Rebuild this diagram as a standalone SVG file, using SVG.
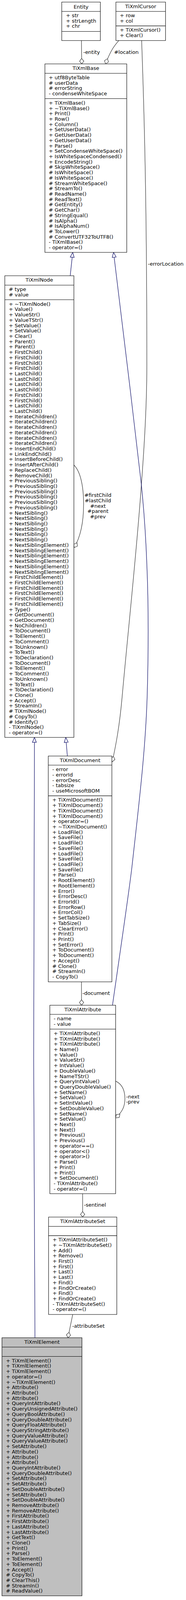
<svg xmlns="http://www.w3.org/2000/svg" width="475" height="4376" viewBox="0 0 475 4376">
<style>
.box{fill:#ffffff;stroke:#000000;stroke-width:1.1}
.root{fill:#bfbfbf;stroke:#000000;stroke-width:1.1}
.div{stroke:#000000;stroke-width:1.1}
text{font-family:'DejaVu Sans','Liberation Sans',sans-serif;font-size:13px;fill:#000000}
.t{text-anchor:middle}
.use{fill:none;stroke:#404040;stroke-width:1.3}
.inh{fill:none;stroke:#191970;stroke-width:1.3}
.lbl{text-anchor:start}
.lc{text-anchor:middle}
</style>
<defs>
<marker id="tri" markerUnits="userSpaceOnUse" markerWidth="16" markerHeight="12" refX="13.5" refY="0" orient="auto" overflow="visible">
<path d="M0,-5 L13.5,0 L0,5 Z" fill="#ffffff" stroke="#191970" stroke-width="1.3"/>
</marker>
<marker id="dia" markerUnits="userSpaceOnUse" markerWidth="16" markerHeight="12" refX="15" refY="0" orient="auto" overflow="visible">
<path d="M0,0 L7.5,-5.4 L15,0 L7.5,5.4 Z" fill="#ffffff" stroke="#404040" stroke-width="1.3"/>
</marker>
</defs>
<rect x="0" y="0" width="475" height="4376" fill="#ffffff"/>
<g id="diagram" transform="scale(1,0.935)">
<g id="edges">
<path class="use" d="M208,111 L208.7,175" marker-end="url(#dia)"/>
<text class="lbl" x="212.7" y="147.5">-entity</text>
<path class="use" d="M303.3,111 C296,120 290,128 284,140 C279,150 274,162 269.5,175" marker-end="url(#dia)"/>
<text class="lbl" x="291.5" y="147.5">#location</text>
<path class="use" d="M361.7,111 C368,300 375,550 375,1000 C375,1100 368,1230 361,1327 C350,1500 325,1750 311.7,1910 C305,1990 296,2040 286.7,2085.7" marker-end="url(#dia)"/>
<text class="lbl" x="377.7" y="727.4">-errorLocation</text>
<path class="inh" d="M179.3,755 L185.7,691" marker-end="url(#tri)"/>
<path class="inh" d="M287.3,2752.3 C300,2655 330,2440 337.3,2370 C355,2200 372,2050 376,1900 C380,1750 378,1620 375,1545 C372,1460 368,1400 361,1327 C340,1130 305,820 290,691" marker-end="url(#tri)"/>
<path class="use" d="M188.7,1273.3 C205,1290 213.5,1330 213.5,1380 C213.5,1440 203,1475 189.3,1499.3" marker-end="url(#dia)"/>
<text class="lc" x="250" y="1360.8"><tspan x="250">#firstChild</tspan><tspan x="250" dy="14.67">#lastChild</tspan><tspan x="250" dy="14.67">#next</tspan><tspan x="250" dy="14.67">#parent</tspan><tspan x="250" dy="14.67">#prev</tspan></text>
<path class="inh" d="M172,2070 L168,2019" marker-end="url(#tri)"/>
<path class="inh" d="M89.3,3662.7 C87,3500 86,3300 86,2900 C86,2400 86,2150 88,2019" marker-end="url(#tri)"/>
<path class="use" d="M208,2688.3 L208.3,2752.3" marker-end="url(#dia)"/>
<text class="lbl" x="210.4" y="2724.1">-document</text>
<path class="use" d="M295.3,2960 C311,2968 319,2985 319,3008 C319,3030 312,3045 295.3,3060.7" marker-end="url(#dia)"/>
<text class="lc" x="339" y="3007.5"><tspan x="339">-next</tspan><tspan x="339" dy="14.3">-prev</tspan></text>
<path class="use" d="M211,3268.3 L211,3332.3" marker-end="url(#dia)"/>
<text class="lbl" x="214.4" y="3304.1">-sentinel</text>
<path class="use" d="M185.7,3599 L173.5,3662.7" marker-end="url(#dia)"/>
<text class="lbl" x="184.4" y="3635.1">-attributeSet</text>
</g>

<g id="Entity">
<rect class="box" x="157.7" y="5.7" width="98.6" height="105.3"/>
<line class="div" x1="157.7" y1="31.3" x2="256.3" y2="31.3"/>
<line class="div" x1="157.7" y1="86" x2="256.3" y2="86"/>
<text class="t" x="207" y="23.1">Entity</text>
<text x="168.6" y="47.1"><tspan x="168.6">+ str</tspan><tspan x="168.6" dy="14.67">+ strLength</tspan><tspan x="168.6" dy="14.67">+ chr</tspan></text>
</g>

<g id="TiXmlCursor">
<rect class="box" x="296" y="5.7" width="126.7" height="105.3"/>
<line class="div" x1="296" y1="31.3" x2="422.7" y2="31.3"/>
<line class="div" x1="296" y1="71" x2="422.7" y2="71"/>
<text class="t" x="359.3" y="22.8">TiXmlCursor</text>
<text x="305.9" y="47.1"><tspan x="305.9">+ row</tspan><tspan x="305.9" dy="14.67">+ col</tspan></text>
<text x="305.9" y="86.8"><tspan x="305.9">+ TiXmlCursor()</tspan><tspan x="305.9" dy="14.67">+ Clear()</tspan></text>
</g>

<g id="TiXmlBase">
<rect class="box" x="114.7" y="175" width="209" height="516"/>
<line class="div" x1="114.7" y1="200.7" x2="323.7" y2="200.7"/>
<line class="div" x1="114.7" y1="270" x2="323.7" y2="270"/>
<text class="t" x="219.2" y="191.5">TiXmlBase</text>
<text x="124.6" y="217.1"><tspan x="124.6">+ utf8ByteTable</tspan><tspan x="124.6" dy="14.67"># userData</tspan><tspan x="124.6" dy="14.67"># errorString</tspan><tspan x="124.6" dy="14.67">- condenseWhiteSpace</tspan></text>
<text x="124.6" y="286.5"><tspan x="124.6">+ TiXmlBase()</tspan><tspan x="124.6" dy="14.67">+ ~TiXmlBase()</tspan><tspan x="124.6" dy="14.67">+ Print()</tspan><tspan x="124.6" dy="14.67">+ Row()</tspan><tspan x="124.6" dy="14.67">+ Column()</tspan><tspan x="124.6" dy="14.67">+ SetUserData()</tspan><tspan x="124.6" dy="14.67">+ GetUserData()</tspan><tspan x="124.6" dy="14.67">+ GetUserData()</tspan><tspan x="124.6" dy="14.67">+ Parse()</tspan><tspan x="124.6" dy="14.67">+ SetCondenseWhiteSpace()</tspan><tspan x="124.6" dy="14.67">+ IsWhiteSpaceCondensed()</tspan><tspan x="124.6" dy="14.67">+ EncodeString()</tspan><tspan x="124.6" dy="14.67"># SkipWhiteSpace()</tspan><tspan x="124.6" dy="14.67"># IsWhiteSpace()</tspan><tspan x="124.6" dy="14.67"># IsWhiteSpace()</tspan><tspan x="124.6" dy="14.67"># StreamWhiteSpace()</tspan><tspan x="124.6" dy="14.67"># StreamTo()</tspan><tspan x="124.6" dy="14.67"># ReadName()</tspan><tspan x="124.6" dy="14.67"># ReadText()</tspan><tspan x="124.6" dy="14.67"># GetEntity()</tspan><tspan x="124.6" dy="14.67"># GetChar()</tspan><tspan x="124.6" dy="14.67"># StringEqual()</tspan><tspan x="124.6" dy="14.67"># IsAlpha()</tspan><tspan x="124.6" dy="14.67"># IsAlphaNum()</tspan><tspan x="124.6" dy="14.67"># ToLower()</tspan><tspan x="124.6" dy="14.67"># ConvertUTF32ToUTF8()</tspan><tspan x="124.6" dy="14.67">- TiXmlBase()</tspan><tspan x="124.6" dy="14.67">- operator=()</tspan></text>
</g>

<g id="TiXmlNode">
<rect class="box" x="12.3" y="755" width="176.4" height="1264"/>
<line class="div" x1="12.3" y1="780.7" x2="188.7" y2="780.7"/>
<line class="div" x1="12.3" y1="820.7" x2="188.7" y2="820.7"/>
<text class="t" x="100.5" y="771.5">TiXmlNode</text>
<text x="22.6" y="797.3"><tspan x="22.6"># type</tspan><tspan x="22.6" dy="14.67"># value</tspan></text>
<text x="22.6" y="837.1"><tspan x="22.6">+ ~TiXmlNode()</tspan><tspan x="22.6" dy="14.67">+ Value()</tspan><tspan x="22.6" dy="14.67">+ ValueStr()</tspan><tspan x="22.6" dy="14.67">+ ValueTStr()</tspan><tspan x="22.6" dy="14.67">+ SetValue()</tspan><tspan x="22.6" dy="14.67">+ SetValue()</tspan><tspan x="22.6" dy="14.67">+ Clear()</tspan><tspan x="22.6" dy="14.67">+ Parent()</tspan><tspan x="22.6" dy="14.67">+ Parent()</tspan><tspan x="22.6" dy="14.67">+ FirstChild()</tspan><tspan x="22.6" dy="14.67">+ FirstChild()</tspan><tspan x="22.6" dy="14.67">+ FirstChild()</tspan><tspan x="22.6" dy="14.67">+ FirstChild()</tspan><tspan x="22.6" dy="14.67">+ LastChild()</tspan><tspan x="22.6" dy="14.67">+ LastChild()</tspan><tspan x="22.6" dy="14.67">+ LastChild()</tspan><tspan x="22.6" dy="14.67">+ LastChild()</tspan><tspan x="22.6" dy="14.67">+ FirstChild()</tspan><tspan x="22.6" dy="14.67">+ FirstChild()</tspan><tspan x="22.6" dy="14.67">+ LastChild()</tspan><tspan x="22.6" dy="14.67">+ LastChild()</tspan><tspan x="22.6" dy="14.67">+ IterateChildren()</tspan><tspan x="22.6" dy="14.67">+ IterateChildren()</tspan><tspan x="22.6" dy="14.67">+ IterateChildren()</tspan><tspan x="22.6" dy="14.67">+ IterateChildren()</tspan><tspan x="22.6" dy="14.67">+ IterateChildren()</tspan><tspan x="22.6" dy="14.67">+ IterateChildren()</tspan><tspan x="22.6" dy="14.67">+ InsertEndChild()</tspan><tspan x="22.6" dy="14.67">+ LinkEndChild()</tspan><tspan x="22.6" dy="14.67">+ InsertBeforeChild()</tspan><tspan x="22.6" dy="14.67">+ InsertAfterChild()</tspan><tspan x="22.6" dy="14.67">+ ReplaceChild()</tspan><tspan x="22.6" dy="14.67">+ RemoveChild()</tspan><tspan x="22.6" dy="14.67">+ PreviousSibling()</tspan><tspan x="22.6" dy="14.67">+ PreviousSibling()</tspan><tspan x="22.6" dy="14.67">+ PreviousSibling()</tspan><tspan x="22.6" dy="14.67">+ PreviousSibling()</tspan><tspan x="22.6" dy="14.67">+ PreviousSibling()</tspan><tspan x="22.6" dy="14.67">+ PreviousSibling()</tspan><tspan x="22.6" dy="14.67">+ NextSibling()</tspan><tspan x="22.6" dy="14.67">+ NextSibling()</tspan><tspan x="22.6" dy="14.67">+ NextSibling()</tspan><tspan x="22.6" dy="14.67">+ NextSibling()</tspan><tspan x="22.6" dy="14.67">+ NextSibling()</tspan><tspan x="22.6" dy="14.67">+ NextSibling()</tspan><tspan x="22.6" dy="14.67">+ NextSiblingElement()</tspan><tspan x="22.6" dy="14.67">+ NextSiblingElement()</tspan><tspan x="22.6" dy="14.67">+ NextSiblingElement()</tspan><tspan x="22.6" dy="14.67">+ NextSiblingElement()</tspan><tspan x="22.6" dy="14.67">+ NextSiblingElement()</tspan><tspan x="22.6" dy="14.67">+ NextSiblingElement()</tspan><tspan x="22.6" dy="14.67">+ FirstChildElement()</tspan><tspan x="22.6" dy="14.67">+ FirstChildElement()</tspan><tspan x="22.6" dy="14.67">+ FirstChildElement()</tspan><tspan x="22.6" dy="14.67">+ FirstChildElement()</tspan><tspan x="22.6" dy="14.67">+ FirstChildElement()</tspan><tspan x="22.6" dy="14.67">+ FirstChildElement()</tspan><tspan x="22.6" dy="14.67">+ Type()</tspan><tspan x="22.6" dy="14.67">+ GetDocument()</tspan><tspan x="22.6" dy="14.67">+ GetDocument()</tspan><tspan x="22.6" dy="14.67">+ NoChildren()</tspan><tspan x="22.6" dy="14.67">+ ToDocument()</tspan><tspan x="22.6" dy="14.67">+ ToElement()</tspan><tspan x="22.6" dy="14.67">+ ToComment()</tspan><tspan x="22.6" dy="14.67">+ ToUnknown()</tspan><tspan x="22.6" dy="14.67">+ ToText()</tspan><tspan x="22.6" dy="14.67">+ ToDeclaration()</tspan><tspan x="22.6" dy="14.67">+ ToDocument()</tspan><tspan x="22.6" dy="14.67">+ ToElement()</tspan><tspan x="22.6" dy="14.67">+ ToComment()</tspan><tspan x="22.6" dy="14.67">+ ToUnknown()</tspan><tspan x="22.6" dy="14.67">+ ToText()</tspan><tspan x="22.6" dy="14.67">+ ToDeclaration()</tspan><tspan x="22.6" dy="14.67">+ Clone()</tspan><tspan x="22.6" dy="14.67">+ Accept()</tspan><tspan x="22.6" dy="14.67">+ StreamIn()</tspan><tspan x="22.6" dy="14.67"># TiXmlNode()</tspan><tspan x="22.6" dy="14.67"># CopyTo()</tspan><tspan x="22.6" dy="14.67"># Identify()</tspan><tspan x="22.6" dy="14.67">- TiXmlNode()</tspan><tspan x="22.6" dy="14.67">- operator=()</tspan></text>
</g>

<g id="TiXmlDocument">
<rect class="box" x="123.3" y="2070" width="162.4" height="618.3"/>
<line class="div" x1="123.3" y1="2095" x2="285.7" y2="2095"/>
<line class="div" x1="123.3" y1="2179" x2="285.7" y2="2179"/>
<text class="t" x="204.5" y="2086.5">TiXmlDocument</text>
<text x="133.6" y="2111.5"><tspan x="133.6">- error</tspan><tspan x="133.6" dy="14.67">- errorId</tspan><tspan x="133.6" dy="14.67">- errorDesc</tspan><tspan x="133.6" dy="14.67">- tabsize</tspan><tspan x="133.6" dy="14.67">- useMicrosoftBOM</tspan></text>
<text x="133.6" y="2195.1"><tspan x="133.6">+ TiXmlDocument()</tspan><tspan x="133.6" dy="14.67">+ TiXmlDocument()</tspan><tspan x="133.6" dy="14.67">+ TiXmlDocument()</tspan><tspan x="133.6" dy="14.67">+ TiXmlDocument()</tspan><tspan x="133.6" dy="14.67">+ operator=()</tspan><tspan x="133.6" dy="14.67">+ ~TiXmlDocument()</tspan><tspan x="133.6" dy="14.67">+ LoadFile()</tspan><tspan x="133.6" dy="14.67">+ SaveFile()</tspan><tspan x="133.6" dy="14.67">+ LoadFile()</tspan><tspan x="133.6" dy="14.67">+ SaveFile()</tspan><tspan x="133.6" dy="14.67">+ LoadFile()</tspan><tspan x="133.6" dy="14.67">+ SaveFile()</tspan><tspan x="133.6" dy="14.67">+ LoadFile()</tspan><tspan x="133.6" dy="14.67">+ SaveFile()</tspan><tspan x="133.6" dy="14.67">+ Parse()</tspan><tspan x="133.6" dy="14.67">+ RootElement()</tspan><tspan x="133.6" dy="14.67">+ RootElement()</tspan><tspan x="133.6" dy="14.67">+ Error()</tspan><tspan x="133.6" dy="14.67">+ ErrorDesc()</tspan><tspan x="133.6" dy="14.67">+ ErrorId()</tspan><tspan x="133.6" dy="14.67">+ ErrorRow()</tspan><tspan x="133.6" dy="14.67">+ ErrorCol()</tspan><tspan x="133.6" dy="14.67">+ SetTabSize()</tspan><tspan x="133.6" dy="14.67">+ TabSize()</tspan><tspan x="133.6" dy="14.67">+ ClearError()</tspan><tspan x="133.6" dy="14.67">+ Print()</tspan><tspan x="133.6" dy="14.67">+ Print()</tspan><tspan x="133.6" dy="14.67">+ SetError()</tspan><tspan x="133.6" dy="14.67">+ ToDocument()</tspan><tspan x="133.6" dy="14.67">+ ToDocument()</tspan><tspan x="133.6" dy="14.67">+ Accept()</tspan><tspan x="133.6" dy="14.67"># Clone()</tspan><tspan x="133.6" dy="14.67"># StreamIn()</tspan><tspan x="133.6" dy="14.67">- CopyTo()</tspan></text>
</g>

<g id="TiXmlAttribute">
<rect class="box" x="127.3" y="2752.3" width="168" height="516"/>
<line class="div" x1="127.3" y1="2777.3" x2="295.3" y2="2777.3"/>
<line class="div" x1="127.3" y1="2817.7" x2="295.3" y2="2817.7"/>
<text class="t" x="211.3" y="2769.1">TiXmlAttribute</text>
<text x="136.9" y="2794.1"><tspan x="136.9">- name</tspan><tspan x="136.9" dy="14.67">- value</tspan></text>
<text x="136.9" y="2834.1"><tspan x="136.9">+ TiXmlAttribute()</tspan><tspan x="136.9" dy="14.67">+ TiXmlAttribute()</tspan><tspan x="136.9" dy="14.67">+ TiXmlAttribute()</tspan><tspan x="136.9" dy="14.67">+ Name()</tspan><tspan x="136.9" dy="14.67">+ Value()</tspan><tspan x="136.9" dy="14.67">+ ValueStr()</tspan><tspan x="136.9" dy="14.67">+ IntValue()</tspan><tspan x="136.9" dy="14.67">+ DoubleValue()</tspan><tspan x="136.9" dy="14.67">+ NameTStr()</tspan><tspan x="136.9" dy="14.67">+ QueryIntValue()</tspan><tspan x="136.9" dy="14.67">+ QueryDoubleValue()</tspan><tspan x="136.9" dy="14.67">+ SetName()</tspan><tspan x="136.9" dy="14.67">+ SetValue()</tspan><tspan x="136.9" dy="14.67">+ SetIntValue()</tspan><tspan x="136.9" dy="14.67">+ SetDoubleValue()</tspan><tspan x="136.9" dy="14.67">+ SetName()</tspan><tspan x="136.9" dy="14.67">+ SetValue()</tspan><tspan x="136.9" dy="14.67">+ Next()</tspan><tspan x="136.9" dy="14.67">+ Next()</tspan><tspan x="136.9" dy="14.67">+ Previous()</tspan><tspan x="136.9" dy="14.67">+ Previous()</tspan><tspan x="136.9" dy="14.67">+ operator==()</tspan><tspan x="136.9" dy="14.67">+ operator&lt;()</tspan><tspan x="136.9" dy="14.67">+ operator&gt;()</tspan><tspan x="136.9" dy="14.67">+ Parse()</tspan><tspan x="136.9" dy="14.67">+ Print()</tspan><tspan x="136.9" dy="14.67">+ Print()</tspan><tspan x="136.9" dy="14.67">+ SetDocument()</tspan><tspan x="136.9" dy="14.67">- TiXmlAttribute()</tspan><tspan x="136.9" dy="14.67">- operator=()</tspan></text>
</g>

<g id="TiXmlAttributeSet">
<rect class="box" x="124" y="3332.3" width="174.3" height="266.7"/>
<line class="div" x1="124" y1="3357.7" x2="298.3" y2="3357.7"/>
<line class="div" x1="124" y1="3383.3" x2="298.3" y2="3383.3"/>
<text class="t" x="211.2" y="3349.1">TiXmlAttributeSet</text>
<text x="134.3" y="3399.1"><tspan x="134.3">+ TiXmlAttributeSet()</tspan><tspan x="134.3" dy="14.67">+ ~TiXmlAttributeSet()</tspan><tspan x="134.3" dy="14.67">+ Add()</tspan><tspan x="134.3" dy="14.67">+ Remove()</tspan><tspan x="134.3" dy="14.67">+ First()</tspan><tspan x="134.3" dy="14.67">+ First()</tspan><tspan x="134.3" dy="14.67">+ Last()</tspan><tspan x="134.3" dy="14.67">+ Last()</tspan><tspan x="134.3" dy="14.67">+ Find()</tspan><tspan x="134.3" dy="14.67">+ FindOrCreate()</tspan><tspan x="134.3" dy="14.67">+ Find()</tspan><tspan x="134.3" dy="14.67">+ FindOrCreate()</tspan><tspan x="134.3" dy="14.67">- TiXmlAttributeSet()</tspan><tspan x="134.3" dy="14.67">- operator=()</tspan></text>
</g>

<g id="TiXmlElement">
<rect class="root" x="5" y="3662.7" width="204.3" height="706.6"/>
<line class="div" x1="5" y1="3688.3" x2="209.3" y2="3688.3"/>
<line class="div" x1="5" y1="3714" x2="209.3" y2="3714"/>
<text class="t" x="107.2" y="3679.1">TiXmlElement</text>
<text x="15.3" y="3730.1"><tspan x="15.3">+ TiXmlElement()</tspan><tspan x="15.3" dy="14.67">+ TiXmlElement()</tspan><tspan x="15.3" dy="14.67">+ TiXmlElement()</tspan><tspan x="15.3" dy="14.67">+ operator=()</tspan><tspan x="15.3" dy="14.67">+ ~TiXmlElement()</tspan><tspan x="15.3" dy="14.67">+ Attribute()</tspan><tspan x="15.3" dy="14.67">+ Attribute()</tspan><tspan x="15.3" dy="14.67">+ Attribute()</tspan><tspan x="15.3" dy="14.67">+ QueryIntAttribute()</tspan><tspan x="15.3" dy="14.67">+ QueryUnsignedAttribute()</tspan><tspan x="15.3" dy="14.67">+ QueryBoolAttribute()</tspan><tspan x="15.3" dy="14.67">+ QueryDoubleAttribute()</tspan><tspan x="15.3" dy="14.67">+ QueryFloatAttribute()</tspan><tspan x="15.3" dy="14.67">+ QueryStringAttribute()</tspan><tspan x="15.3" dy="14.67">+ QueryValueAttribute()</tspan><tspan x="15.3" dy="14.67">+ QueryValueAttribute()</tspan><tspan x="15.3" dy="14.67">+ SetAttribute()</tspan><tspan x="15.3" dy="14.67">+ Attribute()</tspan><tspan x="15.3" dy="14.67">+ Attribute()</tspan><tspan x="15.3" dy="14.67">+ Attribute()</tspan><tspan x="15.3" dy="14.67">+ QueryIntAttribute()</tspan><tspan x="15.3" dy="14.67">+ QueryDoubleAttribute()</tspan><tspan x="15.3" dy="14.67">+ SetAttribute()</tspan><tspan x="15.3" dy="14.67">+ SetAttribute()</tspan><tspan x="15.3" dy="14.67">+ SetDoubleAttribute()</tspan><tspan x="15.3" dy="14.67">+ SetAttribute()</tspan><tspan x="15.3" dy="14.67">+ SetDoubleAttribute()</tspan><tspan x="15.3" dy="14.67">+ RemoveAttribute()</tspan><tspan x="15.3" dy="14.67">+ RemoveAttribute()</tspan><tspan x="15.3" dy="14.67">+ FirstAttribute()</tspan><tspan x="15.3" dy="14.67">+ FirstAttribute()</tspan><tspan x="15.3" dy="14.67">+ LastAttribute()</tspan><tspan x="15.3" dy="14.67">+ LastAttribute()</tspan><tspan x="15.3" dy="14.67">+ GetText()</tspan><tspan x="15.3" dy="14.67">+ Clone()</tspan><tspan x="15.3" dy="14.67">+ Print()</tspan><tspan x="15.3" dy="14.67">+ Parse()</tspan><tspan x="15.3" dy="14.67">+ ToElement()</tspan><tspan x="15.3" dy="14.67">+ ToElement()</tspan><tspan x="15.3" dy="14.67">+ Accept()</tspan><tspan x="15.3" dy="14.67"># CopyTo()</tspan><tspan x="15.3" dy="14.67"># ClearThis()</tspan><tspan x="15.3" dy="14.67"># StreamIn()</tspan><tspan x="15.3" dy="14.67"># ReadValue()</tspan></text>
</g>
</g>
</svg>
